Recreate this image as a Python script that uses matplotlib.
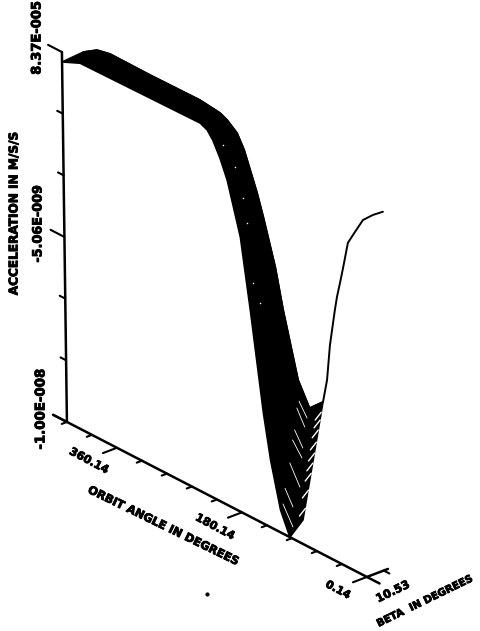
import numpy as np
import matplotlib
matplotlib.use('Agg')
import matplotlib.pyplot as plt
import matplotlib.patheffects as pe

# front curve, beta = 0 (orbit deg, accel in 1E-9)
front_orbit = [432, 406, 233, 223, 215, 205, 195, 187, 177, 164, 147, 137.5, 124, 111, 91.7]
front_accel = [-0.19, 0.03, 0.09, 0.0, -0.2, -0.59, -1.09, -1.7, -2.47, -4.33, -6.97, -8.16, -9.39, -10.0, -9.34]

# back curve, beta = 10.53
back_orbit = [432, 412, 393, 335.5, 263.5, 234.7, 224.7, 210.4, 200.5, 192, 182.5, 174, 157.7, 147, 126.7, 110.6,
              91, 84.7, 79.8, 72, 68.7, 64, 59, 51.8, 41.3, 29.5, 15, 0.4]
back_accel = [-0.14, 0.11, 0.19, 0.18, 0.2, 0.13, 0.04, -0.18, -0.54, -1.01, -1.54, -2.11, -3.31, -4.38, -6.09, -6.7,
              -6.34, -5.68, -4.68, -3.65, -3.26, -2.83, -2.35, -1.62, -1.22, -0.78, -0.5, -0.27]

# gaps between curves, rising side of the trough
gap_rise_beta = [9.6, 9.0, 8.0, 7.0, 6.0, 5.1, 4.2, 2.7, 1.1]
gap_rise_accel = [-6.6, -6.8, -7.05, -7.36, -7.64, -7.89, -8.15, -8.58, -9.04]

# gaps between curves, falling side of the trough
gap_fall_beta = [9.0, 8.0, 6.5, 5.6, 4.2, 2.7, 1.1]
gap_fall_orbit0 = [121.3, 121.7, 121.0, 121.6, 122.0, 125.0, 123.6]
gap_fall_accel0 = [-6.58, -6.75, -7.31, -7.57, -8.17, -8.86, -9.24]
gap_fall_orbit1 = [110.0, 110.6, 109.4, 108.3, 107.7, 113.8, 109.6]
gap_fall_accel1 = [-6.93, -7.16, -7.69, -7.93, -8.69, -9.26, -9.73]

# little holes in the dark band, beta about 5
speck_orbit = [215, 198, 187, 181.5, 174, 164.6]
speck_accel = [-0.43, -0.87, -1.6, -2.23, -3.8, -4.25]

accel_min = -10.0
accel_max = 0.08
orbit_max = 432.14
beta_max = 10.53
orbit_ticks = np.arange(0.14, orbit_max + 1, 36)
accel_ticks = np.linspace(accel_min, accel_max, 7)


# oblique projection of the 3D plot onto the page
def proj(orbit, beta, accel):
    orbit = np.asarray(orbit, dtype=float)
    beta = np.asarray(beta, dtype=float)
    h = np.asarray(accel, dtype=float) - accel_min
    x = 367 - 0.6944 * orbit + 1.994 * beta - 0.496 * h
    y = 577 - 0.3588 * orbit - 0.76 * beta - 36.7 * h
    return x, y


def line3(orbit, beta, accel, color='black', lw=1.8):
    x, y = proj(orbit, beta, accel)
    ax.plot(x, y, color=color, lw=lw, solid_capstyle='round', solid_joinstyle='round')


fig = plt.figure(figsize=(4.8, 6.31), dpi=100)
ax = fig.add_axes([0, 0, 1, 1])
ax.set_xlim(0, 480)
ax.set_ylim(631, 0)
ax.axis('off')

# the surface
n_back = back_orbit.index(91) + 1
xf, yf = proj(front_orbit, 0, front_accel)
xb, yb = proj(back_orbit[:n_back], beta_max, back_accel[:n_back])
ax.fill(np.r_[xf, xb[::-1]], np.r_[yf, yb[::-1]], color='black', lw=1.2)
line3(back_orbit, beta_max, back_accel, lw=1.4)

for b, a in zip(gap_rise_beta, gap_rise_accel):
    line3([100, 91], [b, b], [a - 0.3, a], color='white', lw=1.0)
for b, o0, a0, o1, a1 in zip(gap_fall_beta, gap_fall_orbit0, gap_fall_accel0,
                             gap_fall_orbit1, gap_fall_accel1):
    line3([o0, o1], [b, b], [a0, a1], color='white', lw=0.6)
x, y = proj(speck_orbit, 5, speck_accel)
ax.scatter(x, y, s=1.2, color='white', lw=0)

# acceleration axis
line3([orbit_max, orbit_max], [0, 0], [accel_min, accel_max])
for i, a in enumerate(accel_ticks):
    d = 20 if i % 3 == 0 else 8
    line3([orbit_max, orbit_max + d], [0, 0], [a, a], lw=1.5)

# orbit axis
line3([-18, orbit_max + 20], [0, 0], [accel_min, accel_min])
for i, o in enumerate(orbit_ticks):
    d = 7 if i % 5 == 0 else 2.6
    line3([o, o], [0, -d], [accel_min, accel_min], lw=1.5)

# beta axis
line3([0.14, 0.14], [0, beta_max], [accel_min, accel_min])
line3([0.14, -8], [beta_max * 0.8, beta_max * 0.8], [accel_min, accel_min], lw=1.5)

heavy = [pe.withStroke(linewidth=0.6, foreground='black')]
txt = dict(fontweight='bold', color='black', ha='center', va='center', rotation_mode='anchor',
           family='DejaVu Sans', path_effects=heavy)
ax.text(14, 213, 'ACCELERATION IN M/S/S', fontsize=8.7, rotation=90, **txt)
ax.text(37, 38, '8.37E-005', fontsize=9.4, rotation=90, **txt)
ax.text(38, 224, '-5.06E-009', fontsize=9.2, rotation=90, **txt)
ax.text(41, 409, '-1.00E-008', fontsize=9.6, rotation=90, **txt)
ax.text(89, 461, '360.14', fontsize=8.0, rotation=-28, **txt)
ax.text(215, 527, '180.14', fontsize=8.0, rotation=-28, **txt)
ax.text(338, 590, '0.14', fontsize=7.8, rotation=-28, **txt)
ax.text(163, 526, 'ORBIT ANGLE IN DEGREES', fontsize=8.2, rotation=-26, **txt)
ax.text(393, 592, '10.53', fontsize=8.2, rotation=26, **txt)
ax.text(425, 601, 'BETA  IN DEGREES', fontsize=7.4, rotation=26, **txt)

# scan speck below the plot
speck_page = (207, 594)
ax.scatter(*speck_page, s=9, color='black', lw=0)

fig.savefig('out.png', dpi=100)
